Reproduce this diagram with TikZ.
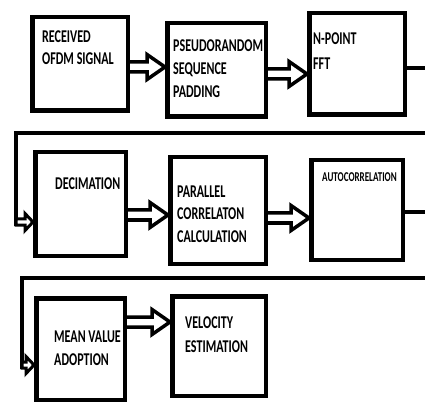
\documentclass[tikz,border=0pt]{standalone}
\usepackage{fontspec}
\setmainfont{Carlito}[FakeStretch=0.67]
\usetikzlibrary{calc}
\newcommand\fatarrow[5]{% from, to, y, shaft half, head half
  \draw[fat] let \p1=(#1.east), \p2=(#2.west), \p3=(0,#3) in
    (\x1,\y3+#4pt) -- (\x2-18pt,\y3+#4pt) -- (\x2-18pt,\y3+#5pt) -- (\x2,\y3)
    -- (\x2-18pt,\y3-#5pt) -- (\x2-18pt,\y3-#4pt) -- (\x1,\y3-#4pt);}
\newcommand\smallarrow[3]{% from coordinate, to node, y
  \draw[fat, line width=3pt] let \p1=(#1), \p2=(#2.west), \p3=(0,#3) in
    (\x1,\y3+3pt) -- (\x2-8pt,\y3+3pt) -- (\x2-8pt,\y3+8.5pt) -- (\x2,\y3)
    -- (\x2-8pt,\y3-8.5pt) -- (\x2-8pt,\y3-3pt) -- (\x1,\y3-3pt) -- cycle;}
\begin{document}
\begin{tikzpicture}[x=1pt,y=-1pt,
  box/.style={draw=black, line width=4.5pt, fill=white, inner sep=0pt},
  lbl/.style={anchor=base west, inner sep=0pt, font=\fontsize{18}{18}\selectfont\bfseries},
  lblsmall/.style={anchor=base west, inner sep=0pt, font=\fontsize{13.5}{13.5}\selectfont\bfseries},
  fat/.style={draw=black, line width=3.5pt, fill=white, line join=miter},
  conn/.style={draw=black, line width=4pt, line join=miter}]
\useasboundingbox[fill=white] (0,0) rectangle (425,403);

% boxes
\node[box, minimum width=95.5pt, minimum height=93.5pt] (b1) at (80,64) {};
\node[box, minimum width=98.5pt, minimum height=93.5pt] (b2) at (216.5,70) {};
\node[box, minimum width=95.5pt, minimum height=101.5pt] (b3) at (357,64) {};
\node[box, minimum width=90.5pt, minimum height=103.5pt] (b4) at (80.5,204) {};
\node[box, minimum width=95.5pt, minimum height=106.5pt] (b5) at (218,210.5) {};
\node[box, minimum width=91.5pt, minimum height=99.5pt] (b6) at (357,210) {};
\node[box, minimum width=88.5pt, minimum height=101.5pt] (b7) at (80.5,349) {};
\node[box, minimum width=93.5pt, minimum height=99.5pt] (b8) at (219,346) {};

% labels
\node[lbl] (t1a) at (42,43) {RECEIVED};
\node[lbl] (t1b) at (42,65) {OFDM SIGNAL};
\node[lbl] (t2a) at (173,52) {PSEUDORANDOM};
\node[lbl] (t2b) at (173,75) {SEQUENCE};
\node[lbl] (t2c) at (173,98) {PADDING};
\node[lbl] (t3a) at (313,45) {N-POINT};
\node[lbl] (t3b) at (313,70) {FFT};
\node[lbl] (t4a) at (55,190) {DECIMATION};
\node[lbl] (t5a) at (177,197) {PARALLEL};
\node[lbl] (t5b) at (177,219) {CORRELATON};
\node[lbl] (t5c) at (177,242) {CALCULATION};
\node[lblsmall] (t6a) at (322,182) {AUTOCORRELATION};
\node[lbl] (t7a) at (54,342) {MEAN VALUE};
\node[lbl] (t7b) at (54,365) {ADOPTION};
\node[lbl] (t8a) at (185,328) {VELOCITY};
\node[lbl] (t8b) at (185,352) {ESTIMATION};

% block arrows
\fatarrow{b1}{b2}{67}{5}{12.5}
\fatarrow{b2}{b3}{74}{5}{12.5}
\fatarrow{b4}{b5}{215}{5}{12.5}
\fatarrow{b5}{b6}{218}{5}{12.5}
\fatarrow{b7}{b8}{322}{5}{12.5}

% exits and return lines
\coordinate (e1) at (425,68);
\coordinate (e2) at (425,212);
\coordinate (r1) at (425,133);
\coordinate (r1c) at (16,133);
\coordinate (r1d) at (16,222);
\coordinate (r2) at (425,278);
\coordinate (r2c) at (22,278);
\coordinate (r2d) at (22,365);
\draw[conn] (b3.east |- e1) -- (e1);
\draw[conn] (b6.east |- e2) -- (e2);
\draw[conn] (r1) -- (r1c) -- ($(r1d)+(0,4)$);
\draw[conn] (r2) -- (r2c) -- ($(r2d)+(0,4)$);
\smallarrow{r1d}{b4}{222}
\smallarrow{r2d}{b7}{365}
\end{tikzpicture}
\end{document}
